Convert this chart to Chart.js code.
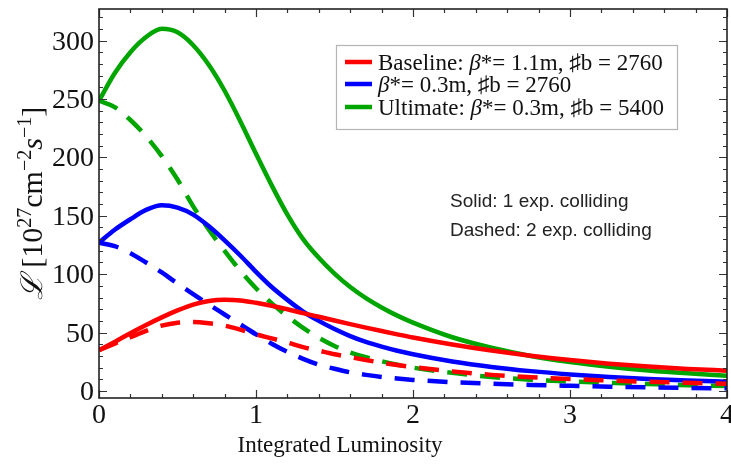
<!DOCTYPE html>
<html><head><meta charset="utf-8">
<script src="https://cdn.jsdelivr.net/npm/chart.js@4.4.1/dist/chart.umd.min.js"></script>
<style>html,body{margin:0;padding:0;background:#fff;overflow:hidden}canvas{display:block}</style>
</head><body>
<canvas id="c" width="731" height="472"></canvas>
<script>
// ---- data ----
const xs = [0,0.1,0.2,0.3,0.4,0.5,0.6,0.7,0.8,0.9,1.0,1.1,1.2,1.3,1.4,1.5,1.6,1.7,1.8,1.9,2.0,2.25,2.5,2.75,3.0,3.25,3.5,3.75,4.0];
const baselineSolid  = [35,42,49.5,56.5,63,69,74,77,78,77.5,75.5,73,70,66.7,63.5,60.3,57.2,54.2,51.3,48.5,45.8,39.8,34.6,30.2,26.5,23.4,20.9,18.9,17.4];
const baselineDashed = [35,40.5,46,51.5,56,58.5,59,58,56,52.5,48.5,45,41.5,37.5,34.5,31.5,29,26.5,24.2,22.2,20.5,16.8,13.8,11.8,10.2,9,7.9,7,6.3];
const beta03Solid    = [127,138,147,155,159,157,151,141,129,116,102,89,78,68,60,53,47,42,38,34.5,31.5,25.3,20.6,17,14.2,12,10.2,9,8];
const beta03Dashed   = [127,124,118,110,101.5,92,83,74,65.5,57,48.5,40.5,33.5,27.5,22.5,19,16,13.8,12,10.6,9.5,7.5,6.2,5.2,4.4,3.7,3.1,2.6,2.3];
const ultimateSolid  = [248.5,272,290,303,310,307,296,279,257,231,203,176,151,130,114,100.5,89,79.5,71.5,64.5,58.5,46,37,30,24.8,20.8,17.6,15.1,13];
const ultimateDashed = [248.5,243,232,218,201,181,158,138,120,103,88,75,64,54,45.5,38.5,33,29,25.5,22.5,20,15.5,12,9.7,8.2,7,5.9,5,4.3];
const xTickValues = [0,1,2,3,4];
const xTickLabels = ['0','1','2','3','4'];
const yTickValues = [0,50,100,150,200,250,300];
const yTickLabels = ['0','50','100','150','200','250','300'];
const seriesNames = ['Baseline','β*= 0.3m','Ultimate'];
const legendLabels = [
  [{t:'Baseline: '},{t:'β',i:true},{t:'*'},{t:'= 1.1m, ♯b = 2760'}],
  [{t:'β',i:true},{t:'*'},{t:'= 0.3m, ♯b = 2760'}],
  [{t:'Ultimate: '},{t:'β',i:true},{t:'*'},{t:'= 0.3m, ♯b = 5400'}]
];
const noteLines = ['Solid: 1 exp. colliding','Dashed: 2 exp. colliding'];
const xAxisTitle = 'Integrated Luminosity';

const RED='#ff0000', BLUE='#0000ff', GREEN='rgb(0,165,0)';
const SERIF='"Liberation Serif","Times New Roman",serif';
const SANS='"Liberation Sans",Arial,sans-serif';

function pts(ys){ return xs.map((x,i)=>({x:x,y:ys[i]})); }
function ds(label,ys,color,dashed){
  return {label:label,data:pts(ys),borderColor:color,backgroundColor:color,borderWidth:4.5,
    borderDash:dashed?[20,13]:[],pointRadius:0,fill:false,cubicInterpolationMode:'monotone',
    borderCapStyle:'butt'};
}

function drawSegs(ctx,segs,x,y,size,measureOnly){
  let w=0;
  for(const s of segs){
    const sz = s.sup?Math.round(size*0.65):size;
    ctx.font=(s.i?'italic ':'')+sz+'px '+SERIF;
    const dy = s.sup?-size*0.38:0;
    if(!measureOnly) ctx.fillText(s.t,x+w,y+dy);
    w+=ctx.measureText(s.t).width;
  }
  return w;
}

const framePlugin = {
  id:'frame',
  afterDraw(chart){
    const ctx=chart.ctx, a=chart.chartArea, sx=chart.scales.x, sy=chart.scales.y;
    ctx.save();
    ctx.strokeStyle='#333'; ctx.lineWidth=1.2;
    ctx.beginPath();
    for(let k=0;k<=20;k++){
      const v=k*0.2, px=Math.round(sx.getPixelForValue(v))+0.5;
      const L = (k%5===0)?8:4;
      ctx.moveTo(px,a.bottom); ctx.lineTo(px,a.bottom-L);
      ctx.moveTo(px,a.top); ctx.lineTo(px,a.top+L);
    }
    for(let v=0;v<=320;v+=10){
      const py=Math.round(sy.getPixelForValue(v))+0.5;
      const L=(v%50===0)?8:4;
      ctx.moveTo(a.left,py); ctx.lineTo(a.left+L,py);
      ctx.moveTo(a.right,py); ctx.lineTo(a.right-L,py);
    }
    ctx.stroke();
    ctx.strokeStyle='#222'; ctx.lineWidth=1.6;
    ctx.strokeRect(a.left,a.top,a.right-a.left,a.bottom-a.top);
    ctx.fillStyle='#111';
    ctx.font='28px '+SERIF;
    ctx.textAlign='center'; ctx.textBaseline='alphabetic';
    xTickValues.forEach((v,i)=>{
      ctx.fillText(xTickLabels[i],sx.getPixelForValue(v),a.bottom+25);
    });
    ctx.textAlign='right';
    yTickValues.forEach((v,i)=>{
      ctx.fillText(yTickLabels[i],a.left-5,sy.getPixelForValue(v)+9);
    });
    ctx.textAlign='center';
    ctx.font='23px '+SERIF;
    ctx.fillText(xAxisTitle,340,452);
    ctx.save();
    ctx.translate(42,(a.top+a.bottom)/2);
    ctx.rotate(-Math.PI/2);
    ctx.textAlign='left';
    const ysegs=[{t:'ℒ',i:true},{t:' [10'},{t:'27',sup:true},{t:'cm'},{t:'−2',sup:true},{t:'s',i:true},{t:'−1',sup:true},{t:']'}];
    const tw=drawSegs(ctx,ysegs,0,0,30,true);
    drawSegs(ctx,ysegs,-tw/2,0,30,false);
    ctx.restore();
    const bx=336,by=45,bw=341,bh=84;
    ctx.fillStyle='#fff'; ctx.fillRect(bx,by,bw,bh);
    ctx.strokeStyle='#b4b4b4'; ctx.lineWidth=1.2; ctx.strokeRect(bx+0.5,by+0.5,bw,bh);
    const rows=[62,84,107];
    for(let i=0;i<3;i++){
      const d=chart.data.datasets[i*2];
      ctx.strokeStyle=d.borderColor; ctx.lineWidth=4.5; ctx.setLineDash([]);
      ctx.beginPath(); ctx.moveTo(345,rows[i]); ctx.lineTo(372,rows[i]); ctx.stroke();
      ctx.fillStyle='#111'; ctx.textAlign='left';
      drawSegs(ctx,legendLabels[i],378,rows[i]+8,23,false);
    }
    ctx.font='19px '+SANS; ctx.fillStyle='#222'; ctx.textAlign='left';
    ctx.fillText(noteLines[0],450,207);
    ctx.fillText(noteLines[1],450,236);
    ctx.restore();
  }
};

new Chart(document.getElementById('c'),{
  type:'line',
  data:{datasets:[
    ds(seriesNames[0]+' solid',baselineSolid,RED,false),
    ds(seriesNames[0]+' dashed',baselineDashed,RED,true),
    ds(seriesNames[1]+' solid',beta03Solid,BLUE,false),
    ds(seriesNames[1]+' dashed',beta03Dashed,BLUE,true),
    ds(seriesNames[2]+' solid',ultimateSolid,GREEN,false),
    ds(seriesNames[2]+' dashed',ultimateDashed,GREEN,true)
  ]},
  options:{
    responsive:false, devicePixelRatio:1, animation:false,
    layout:{padding:{left:99,right:4,top:9,bottom:74}},
    plugins:{legend:{display:false},tooltip:{enabled:false},title:{display:false}},
    scales:{
      x:{type:'linear',min:0,max:4,display:false},
      y:{type:'linear',min:-6,max:327,display:false}
    }
  },
  plugins:[framePlugin]
});
</script>
</body></html>
